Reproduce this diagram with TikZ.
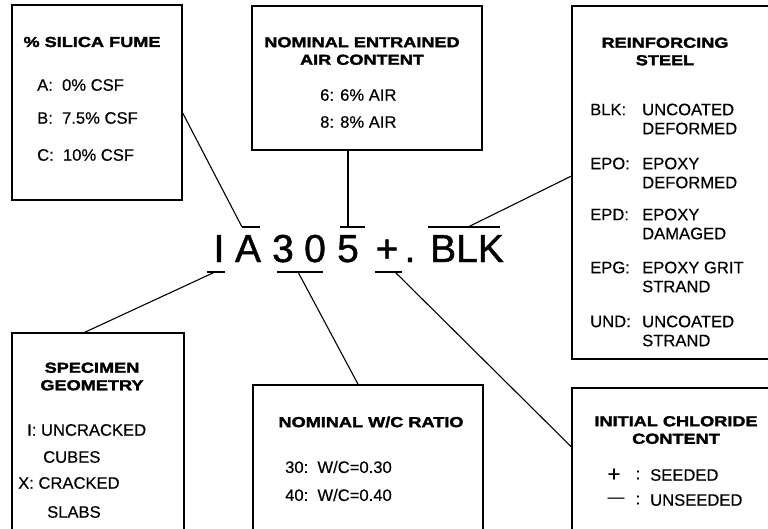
\documentclass[tikz,border=0pt]{standalone}
\usepackage{fontspec}
\setmainfont[FakeBold=0.4]{Liberation Sans}
\newfontfamily\codefont[FakeBold=1.2]{Liberation Sans}
\newfontfamily\headfont[FakeStretch=1.25,FakeBold=2]{Liberation Sans Bold}
\usetikzlibrary{calc}

\begin{document}
\begin{tikzpicture}[x=1pt,y=-1pt,
  panel/.style={draw,line width=1.5pt,inner sep=0pt},
  head/.style={font=\headfont\fontsize{14.5}{17.5}\selectfont,align=center,inner sep=0pt},
  item/.style={font=\fontsize{16.6}{19}\selectfont,anchor=west,align=left,inner sep=0pt},
  code/.style={font=\codefont\fontsize{39}{39}\selectfont,anchor=base,inner sep=0pt},
  bar/.style={line width=2.6pt},
  link/.style={line width=1.1pt}]
\useasboundingbox (0,0) rectangle (768,528);
\clip (0,0) rectangle (768,528);
% boxes
\node[panel,minimum width=170pt,minimum height=195pt] (fume) at (97,102.5) {};
\node[panel,minimum width=230pt,minimum height=144pt] (air) at (367,78) {};
\node[panel,minimum width=228pt,minimum height=353pt] (steel) at (686,182.5) {};
\node[panel,minimum width=172pt,minimum height=227pt] (geom) at (98,446.5) {};
\node[panel,minimum width=230pt,minimum height=175pt] (wc) at (368,472.5) {};
\node[panel,minimum width=228pt,minimum height=172pt] (chl) at (686,474) {};
% silica fume
\node[head] (fume-t) at (92,42) {\% SILICA FUME};
\foreach \n/\y/\v in {A/85/0\%,B/118/7.5\%,C/155/10\%}
  \node[item] (fume-\n) at (37,\y) {\n:\ \ \v\ CSF};
% entrained air
\node[head] (air-t) at (362,51) {NOMINAL ENTRAINED\\ AIR CONTENT};
\foreach \n/\y in {6/95,8/122}
  \node[item] (air-\n) at (320,\y) {\n: \n\% AIR};
% reinforcing steel
\node[head] (steel-t) at (665,51.5) {REINFORCING\\ STEEL};
\foreach \k/\y/\a/\b in {BLK/119/UNCOATED/DEFORMED,EPO/173/EPOXY/DEFORMED,EPD/224/EPOXY/DAMAGED,EPG/277/EPOXY GRIT/STRAND,UND/331/UNCOATED/STRAND} {
  \node[item] (steel-\k) at (590,\y-9.5) {\k:};
  \node[item] (steel-\k-d) at (642,\y) {\a\\ \b};
}
% specimen geometry
\node[head] (geom-t) at (92,376.5) {SPECIMEN\\ GEOMETRY};
\node[item] (geom-I) at (27,430) {I: UNCRACKED};
\node[item] (geom-Ic) at (43,457) {CUBES};
\node[item] (geom-X) at (18,483) {X: CRACKED};
\node[item] (geom-Xs) at (47,512) {SLABS};
% w/c ratio
\node[head] (wc-t) at (371,422) {NOMINAL W/C RATIO};
\foreach \n/\y in {30/467,40/495}
  \node[item] (wc-\n) at (285,\y) {\n:\ \ W/C=0.\n};
% initial chloride
\node[head] (chl-t) at (676,430) {INITIAL CHLORIDE\\ CONTENT};
\node[item,anchor=center,font=\fontsize{22}{22}\selectfont] (chl-p) at (614,475) {+};
\node[item,anchor=center] (chl-m) at (616,500) {\textemdash};
\foreach \n/\y/\w in {p/475/SEEDED,m/500/UNSEEDED} {
  \node[item,anchor=center] (chl-\n c) at (638,\y) {:};
  \node[item] (chl-\n w) at (650,\y) {\w};
}
% specimen code
\foreach \n/\x/\c in {I/219/I,A/248/A,3/283/3,0/315/0,5/348/5,P/387/+,D/410/.,K/467/BLK}
  \node[code] (c\n) at (\x,262) {\c};
\coordinate (barA-l) at (242,227);
\coordinate (barF-m) at (348,227);
\coordinate (barK-m) at (468,227);
\coordinate (barI-m) at (215,272);
\coordinate (barW-m) at (298,272);
\coordinate (barP-m) at (395,272);
\draw[bar] (barA-l) -- (260,227);
\draw[bar] (340,227) -- (365,227);
\draw[bar] (428,227) -- (500,227);
\draw[bar] (207,272) -- (225,272);
\draw[bar] (277,272) -- (323,272);
\draw[bar] (375,272) -- (402,272);
% leaders
\draw[link] ($(fume.north east)!0.554!(fume.south east)$) -- (barA-l);
\draw[link] (air.south -| barF-m) -- (barF-m);
\draw[link] (barK-m) -- ($(steel.north west)!0.482!(steel.south west)$);
\draw[link] (barI-m) -- ($(geom.north west)!0.424!(geom.north east)$);
\draw[link] (barW-m) -- ($(wc.north west)!0.457!(wc.north east)$);
\draw[link] (barP-m) -- ($(chl.north west)!0.343!(chl.south west)$);
\end{tikzpicture}
\end{document}
